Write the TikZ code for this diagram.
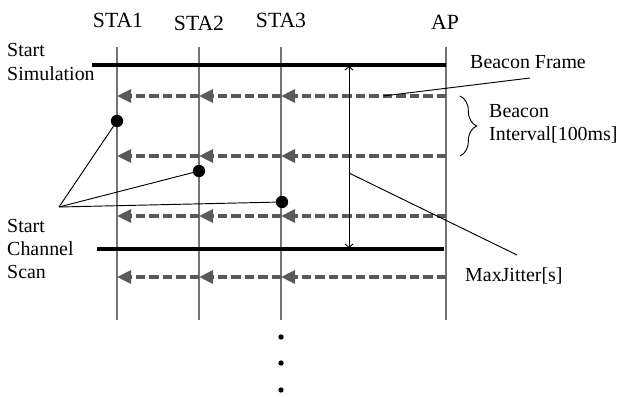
\documentclass[tikz,border=0pt]{standalone}
\usepackage{fontspec}
\setmainfont{Liberation Serif}
\usetikzlibrary{arrows.meta,decorations.pathreplacing}

\tikzset{
  txt/.style={font=\fontsize{17}{20}\selectfont, inner sep=0pt, align=left},
  stalab/.style={font=\fontsize{18.5}{20}\selectfont, inner sep=0pt},
  staline/.style={draw=black!55, line width=0.9pt},
  thickline/.style={draw=black, line width=2.6pt},
  beacon/.style={draw=black!65, line width=2.8pt, dash pattern=on 8pt off 3.5pt,
    -{Triangle[length=12pt,width=11pt]}},
  callout/.style={draw=black, line width=0.8pt},
  dot/.style={circle, fill=black, inner sep=0pt, minimum size=0.37cm}
}

\begin{document}
\begin{tikzpicture}[x=0.03cm,y=-0.03cm]
	% 固定画布大小
	\useasboundingbox (0,0) rectangle (620,397);
	
	% 站点名称
	\node[stalab] (sta1) at (118,20) {STA1};
	\node[stalab] (sta2) at (199,23) {STA2};
	\node[stalab] (sta3) at (281,20) {STA3};
	\node[stalab] (ap) at (445,22) {AP};
	
	% 站点的时间线,上端和下端
	\foreach \s/\x in {1/117,2/199,3/281,a/446} {
		\coordinate (t\s) at (\x,47);
		\coordinate (u\s) at (\x,320);
		\draw[staline] (t\s) -- (u\s);
	}
	
	% 开始仿真和开始扫描的粗线
	\coordinate (simL) at (92,65);
	\coordinate (simR) at (446,65);
	\draw[thickline] (simL) -- (simR);
	\coordinate (scanL) at (97,249);
	\coordinate (scanR) at (444,249);
	\draw[thickline] (scanL) -- (scanR);
	
	% 信标帧,从 AP 发到各站点
	\foreach \r/\y in {1/96,2/156,3/216,4/277} {
		\foreach \s/\x in {1/117,2/199,3/281,a/446}
			\coordinate (b\r\s) at (\x,\y);
		\draw[beacon] (b\r a) -- (b\r 3);
		\draw[beacon] (b\r 3) -- (b\r 2);
		\draw[beacon] (b\r 2) -- (b\r 1);
	}
	
	% MaxJitter 双箭头
	\coordinate (jtop) at (349,66);
	\coordinate (jbot) at (349,248);
	\draw[<->, >={Straight Barb[length=3pt,width=7pt]}, line width=0.8pt] (jtop) -- (jbot);
	
	% 各站点开始扫描的时刻
	\node[dot] (d1) at (117,121) {};
	\node[dot] (d2) at (199,171) {};
	\node[dot] (d3) at (282,202) {};
	\coordinate (apex) at (59,207);
	\draw[callout] (apex) -- (d1);
	\draw[callout] (apex) -- (d2);
	\draw[callout] (apex) -- (d3);
	
	% 左侧文字
	\node[txt, anchor=west] (sim) at (7,62) {Start\\Simulation};
	\node[txt, anchor=west] (scan) at (7,249) {Start\\Channel\\Scan};
	
	% 右侧文字和引线
	\node[txt, anchor=west] (bframe) at (470,62) {Beacon Frame};
	\coordinate (bfA) at (530,78);
	\coordinate (bfB) at (383,96);
	\draw[callout] (bfA) -- (bfB);
	
	\coordinate (brT) at (460,96);
	\coordinate (brB) at (460,156);
	\draw[callout, decorate, decoration={brace, amplitude=0.5cm}] (brT) -- (brB);
	\node[txt, anchor=west] (binter) at (489,124) {Beacon\\Interval[100ms]};
	
	\node[txt, anchor=west] (maxj) at (465,276) {MaxJitter[s]};
	\coordinate (jmid) at (349,173);
	\coordinate (mjend) at (517,255);
	\draw[callout] (jmid) -- (mjend);
	
	% 省略号
	\node[circle, fill=black, inner sep=0pt, minimum size=0.16cm] (e1) at (281,337) {};
	\node[circle, fill=black, inner sep=0pt, minimum size=0.16cm] (e2) at (281,363) {};
	\node[circle, fill=black, inner sep=0pt, minimum size=0.16cm] (e3) at (281,390) {};
\end{tikzpicture}
\end{document}
